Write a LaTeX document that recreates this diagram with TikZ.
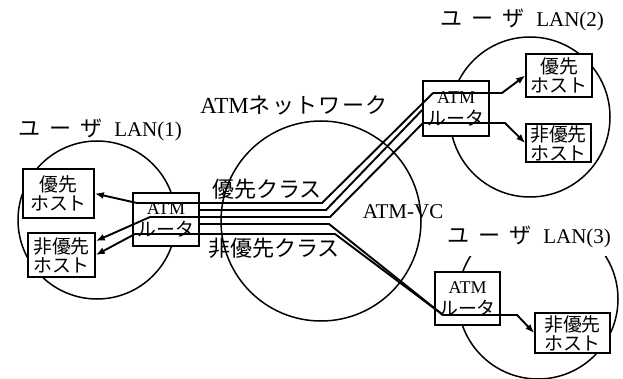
\documentclass[tikz,border=0pt]{standalone}
\usepackage{fontspec}
\setmainfont{Liberation Serif}
\newfontfamily\jp[Scale=1.05]{Noto Sans CJK JP}
\usetikzlibrary{arrows.meta,positioning}
\newcommand\userlan[1]{{\jp ユ\kern9pt ー\kern9pt ザ}\kern12pt LAN(#1)}

\begin{document}
\begin{tikzpicture}[x=1pt,y=-1pt,
  lan/.style={circle,draw,line width=1.5pt,inner sep=0pt},
  host/.style={draw,line width=1.6pt,fill=white,align=center,inner sep=0.5pt,font=\fontsize{18}{19}\selectfont\jp},
  router/.style={draw,line width=1.6pt,fill=white,align=center,inner sep=0.5pt,minimum width=66pt,minimum height=53pt,font=\fontsize{18}{22}\selectfont},
  tag/.style={font=\fontsize{21}{24}\selectfont,inner sep=1pt},
  vc/.style={line width=1.9pt},
  arr/.style={-{Latex[length=9pt,width=7pt]},line width=1.9pt}]
\useasboundingbox (0,0) rectangle (623,379);
% LANs and the ATM network
\node[lan,minimum size=158pt] (lan1) at (97,220) {};
\node[lan,minimum size=200pt] (net) at (321,221) {};
\node[lan,minimum size=160pt] (lan2) at (530,117) {};
\node[lan,minimum size=160pt] (lan3) at (538,299) {};
\node[tag] (t1) at (100,130) {\userlan{1}};
\node[tag] (t2) at (522,20) {\userlan{2}};
\node[tag,fill=white,inner ysep=8pt] (t3) at (529,237) {\userlan{3}};
\node[tag] (tnet) at (294,105) {{\fontsize{23}{24}\selectfont ATM}{\jp\addfontfeature{LetterSpace=6} ネットワーク}};
\node[tag] (thi) at (267,189) {\jp 優先クラス};
\node[tag] (tlo) at (274,248) {\jp 非優先クラス};
\node[tag] (tvc) at (403,212) {ATM-VC};
% hosts and routers
\node[host,minimum width=71pt,minimum height=49pt] (h1a) at (58.5,193.5) {優先\\ホスト};
\node[host,minimum width=67pt,minimum height=44pt] (h1b) at (61.5,255) {非優先\\ホスト};
\node[router] (r1) at (166,219.5) {ATM\\{\jp ルータ}};
\node[router,minimum height=55pt] (r2) at (456,108.5) {ATM\\{\jp ルータ}};
\node[router,minimum width=65pt] (r3) at (467.5,298.5) {ATM\\{\jp ルータ}};
\node[host,minimum width=66pt,minimum height=43pt] (h2a) at (559,75.5) {優先\\ホスト};
\node[host,minimum width=65pt,minimum height=38pt] (h2b) at (558.5,143) {非優先\\ホスト};
\node[host,minimum width=75pt,minimum height=40pt] (h3) at (572.5,333) {非優先\\ホスト};
% junctions inside the routers
\coordinate (a1) at (137,203);
\coordinate (a2) at (150,217);
\coordinate (a3) at (135,234);
\coordinate (b1) at (433,93);
\coordinate (b2) at (423,123);
\coordinate (c1) at (443,315);
% VCs
\draw[arr] (a1) -- (h1a.east);
\draw[arr] (a2) -- ([yshift=14pt]h1b.east);
\draw[arr] (a3) -- (h1b.east);
\draw[vc] (a1) -- (322,203) -- (b1);
\draw[vc] (r1.east |- 0,210) -- (326,210) -- (r2.west |- 0,110);
\draw[vc] (a2) -- (330,217) -- (b2);
\draw[vc] (r1.east |- 0,224) -- (329,224) -- (c1);
\draw[vc] (a3) -- (335,234) -- (c1);
\draw[arr] (b1) -- (502,93) -- (h2a.west);
\draw[arr] (b2) -- (505,123) -- (h2b.west);
\draw[arr] (c1) -- (517,315) -- (h3.west);
\end{tikzpicture}
\end{document}
